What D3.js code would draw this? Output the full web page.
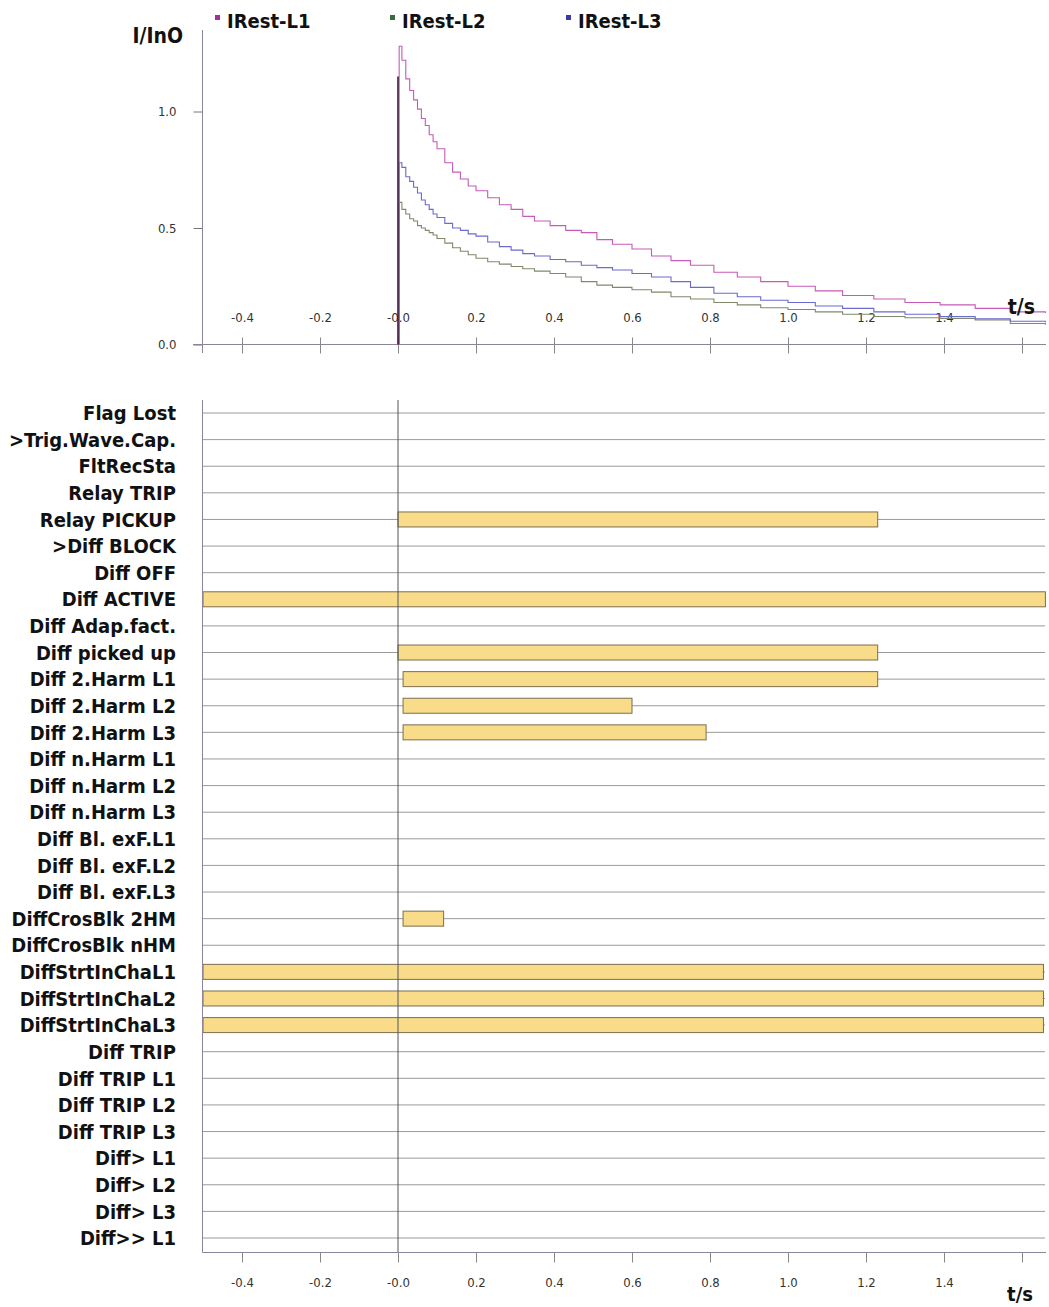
<!DOCTYPE html>
<html><head><meta charset="utf-8">
<script src="https://cdn.jsdelivr.net/npm/d3@7"></script>
<style>
body{margin:0;background:#fff;}
svg{display:block;}
.lbl{font-family:"DejaVu Sans Condensed","DejaVu Sans",sans-serif;font-stretch:condensed;font-weight:bold;fill:#111;}
.tk{font-family:"DejaVu Sans Condensed","DejaVu Sans",sans-serif;font-stretch:condensed;fill:#333;font-size:13px;}
</style></head>
<body>
<script>
// ---------- data ----------
const seriesNames = ["IRest-L1", "IRest-L2", "IRest-L3"];
const times = [0, 0.003, 0.01, 0.02, 0.03, 0.04, 0.05, 0.06, 0.07, 0.08, 0.09, 0.10, 0.12, 0.14, 0.16, 0.18, 0.20, 0.23, 0.26, 0.29, 0.32, 0.35, 0.39, 0.43, 0.47, 0.51, 0.55, 0.60, 0.65, 0.70, 0.75, 0.81, 0.87, 0.93, 1.00, 1.07, 1.14, 1.22, 1.30, 1.39, 1.48, 1.57, 1.66];
const iRestL1 = [0, 1.28, 1.22, 1.14, 1.09, 1.05, 1.01, 0.97, 0.94, 0.90, 0.87, 0.84, 0.78, 0.74, 0.71, 0.68, 0.66, 0.63, 0.60, 0.58, 0.55, 0.53, 0.51, 0.49, 0.48, 0.45, 0.43, 0.41, 0.38, 0.36, 0.34, 0.31, 0.29, 0.27, 0.25, 0.23, 0.21, 0.195, 0.18, 0.17, 0.155, 0.14, 0.135];
const iRestL2 = [0, 0.61, 0.58, 0.56, 0.54, 0.53, 0.51, 0.50, 0.49, 0.48, 0.47, 0.455, 0.435, 0.415, 0.40, 0.385, 0.37, 0.355, 0.345, 0.335, 0.325, 0.315, 0.305, 0.29, 0.27, 0.255, 0.245, 0.235, 0.225, 0.205, 0.195, 0.18, 0.17, 0.158, 0.15, 0.14, 0.13, 0.12, 0.115, 0.112, 0.105, 0.09, 0.085];
const iRestL3 = [0, 0.78, 0.76, 0.72, 0.70, 0.675, 0.65, 0.62, 0.60, 0.58, 0.56, 0.545, 0.52, 0.50, 0.49, 0.475, 0.465, 0.44, 0.42, 0.405, 0.39, 0.38, 0.365, 0.355, 0.34, 0.33, 0.32, 0.305, 0.29, 0.27, 0.245, 0.22, 0.205, 0.19, 0.18, 0.165, 0.155, 0.14, 0.13, 0.12, 0.11, 0.10, 0.095];
const spikeTop = 1.15;
const yTicks = [0, 0.5, 1.0];
const xTicks = [-0.4, -0.2, 0, 0.2, 0.4, 0.6, 0.8, 1.0, 1.2, 1.4, 1.6];
const xTickLabels = ["-0.4", "-0.2", "-0.0", "0.2", "0.4", "0.6", "0.8", "1.0", "1.2", "1.4", ""];
const rowLabels = ["Flag Lost", ">Trig.Wave.Cap.", "FltRecSta", "Relay TRIP", "Relay PICKUP", ">Diff BLOCK", "Diff OFF", "Diff ACTIVE", "Diff Adap.fact.", "Diff picked up", "Diff 2.Harm L1", "Diff 2.Harm L2", "Diff 2.Harm L3", "Diff n.Harm L1", "Diff n.Harm L2", "Diff n.Harm L3", "Diff Bl. exF.L1", "Diff Bl. exF.L2", "Diff Bl. exF.L3", "DiffCrosBlk 2HM", "DiffCrosBlk nHM", "DiffStrtInChaL1", "DiffStrtInChaL2", "DiffStrtInChaL3", "Diff TRIP", "Diff TRIP L1", "Diff TRIP L2", "Diff TRIP L3", "Diff> L1", "Diff> L2", "Diff> L3", "Diff>> L1"];
const barRows   = ["Relay PICKUP", "Diff ACTIVE", "Diff picked up", "Diff 2.Harm L1", "Diff 2.Harm L2", "Diff 2.Harm L3", "DiffCrosBlk 2HM", "DiffStrtInChaL1", "DiffStrtInChaL2", "DiffStrtInChaL3"];
const barStarts = [0, -0.5, 0, 0.013, 0.013, 0.013, 0.013, -0.5, -0.5, -0.5];
const barEnds   = [1.23, 1.66, 1.23, 1.23, 0.6, 0.79, 0.117, 1.655, 1.655, 1.655];

// ---------- layout ----------
const W = 1049, H = 1307;
const svg = d3.select("body").append("svg").attr("width", W).attr("height", H);
const x = d3.scaleLinear().domain([-0.5, 1.66]).range([203, 1045.4]);
const y = d3.scaleLinear().domain([0, 1]).range([344.5, 111.5]);
const row = d3.scalePoint().domain(rowLabels).range([413, 1238]);
const axisCol = "#8e8499";

// ---------- top chart ----------
const gTop = svg.append("g");
gTop.append("line").attr("x1", 202.5).attr("x2", 202.5).attr("y1", 30).attr("y2", 353).attr("stroke", axisCol);
const yAx = gTop.append("g").attr("transform", "translate(202.5,0)")
  .call(d3.axisLeft(y).tickValues(yTicks).tickFormat(d3.format(".1f")).tickSize(9).tickPadding(17));
yAx.select(".domain").remove();
yAx.selectAll("line").attr("stroke", "#777");
yAx.selectAll("text").attr("class", "tk");
gTop.append("line").attr("x1", 193).attr("x2", 1046).attr("y1", 344.5).attr("y2", 344.5).attr("stroke", axisCol);
const xAxT = gTop.append("g").attr("transform", "translate(0,344.5)")
  .call(d3.axisBottom(x).tickValues(xTicks).tickFormat((d, i) => xTickLabels[i]).tickSize(0));
xAxT.select(".domain").remove();
xAxT.selectAll(".tick").append("line").attr("y1", -7).attr("y2", 9).attr("stroke", "#888");
xAxT.selectAll("text").attr("class", "tk").attr("y", -27).attr("dy", "0.35em");

const lineGen = d3.line().x(d => x(d[0])).y(d => y(d[1])).curve(d3.curveStepAfter);
const seriesVals = [iRestL1, iRestL2, iRestL3];
const lineColors = ["#c65ab8", "#7f8a6c", "#6a6ad0"];
const markColors = ["#a0309c", "#3d6a3a", "#3a3ab0"];
[1, 2, 0].forEach(k => {
  gTop.append("path").datum(times.map((t, i) => [t, seriesVals[k][i]]))
    .attr("d", lineGen).attr("fill", "none").attr("stroke", lineColors[k]).attr("stroke-width", 1.1);
});
gTop.append("line").attr("x1", x(0)).attr("x2", x(0)).attr("y1", y(0)).attr("y2", y(spikeTop))
  .attr("stroke", "#3a1a3a").attr("stroke-width", 1.6);

const legX = [215, 390, 566];
seriesNames.forEach((n, i) => {
  gTop.append("rect").attr("x", legX[i]).attr("y", 15).attr("width", 5).attr("height", 5).attr("fill", markColors[i]);
  gTop.append("text").attr("class", "lbl").attr("x", legX[i] + 12).attr("y", 28).attr("font-size", 20).text(n);
});
gTop.append("text").attr("class", "lbl").attr("x", 183).attr("y", 43).attr("text-anchor", "end")
  .attr("font-size", 21).text("I/InO");
gTop.append("text").attr("class", "lbl").attr("x", 1035).attr("y", 314).attr("text-anchor", "end")
  .attr("font-size", 21).text("t/s");

// ---------- bottom chart ----------
const gBot = svg.append("g");
gBot.selectAll(".rl").data(rowLabels).enter().append("line")
  .attr("x1", 203).attr("x2", 1045).attr("y1", d => row(d)).attr("y2", d => row(d))
  .attr("stroke", "#9a9a9a").attr("stroke-width", 1);
const bars = barRows.map((r, i) => ({r, s: barStarts[i], e: barEnds[i]}));
gBot.selectAll(".bar").data(bars).enter().append("rect")
  .attr("x", d => x(d.s)).attr("width", d => x(d.e) - x(d.s))
  .attr("y", d => row(d.r) - 7.5).attr("height", 15)
  .attr("fill", "#f8dc8a").attr("stroke", "#7d6d50").attr("stroke-width", 1);
gBot.append("line").attr("x1", x(0)).attr("x2", x(0)).attr("y1", 400).attr("y2", 1252)
  .attr("stroke", "#555").attr("stroke-width", 1);
gBot.append("line").attr("x1", 202.5).attr("x2", 202.5).attr("y1", 400).attr("y2", 1252.5).attr("stroke", axisCol);
gBot.append("line").attr("x1", 202.5).attr("x2", 1046).attr("y1", 1252.5).attr("y2", 1252.5).attr("stroke", axisCol);
gBot.selectAll(".rlab").data(rowLabels).enter().append("text").attr("class", "lbl")
  .attr("x", 176).attr("y", d => row(d)).attr("dy", "0.36em").attr("text-anchor", "end")
  .attr("font-size", 20).text(d => d);
const xAxB = gBot.append("g").attr("transform", "translate(0,1252.5)")
  .call(d3.axisBottom(x).tickValues(xTicks).tickFormat((d, i) => xTickLabels[i]).tickSize(10).tickPadding(24));
xAxB.select(".domain").remove();
xAxB.selectAll("line").attr("stroke", "#888");
xAxB.selectAll("text").attr("class", "tk").attr("dy", "0");
gBot.append("text").attr("class", "lbl").attr("x", 1033).attr("y", 1301).attr("text-anchor", "end")
  .attr("font-size", 20).text("t/s");
</script>
</body></html>
